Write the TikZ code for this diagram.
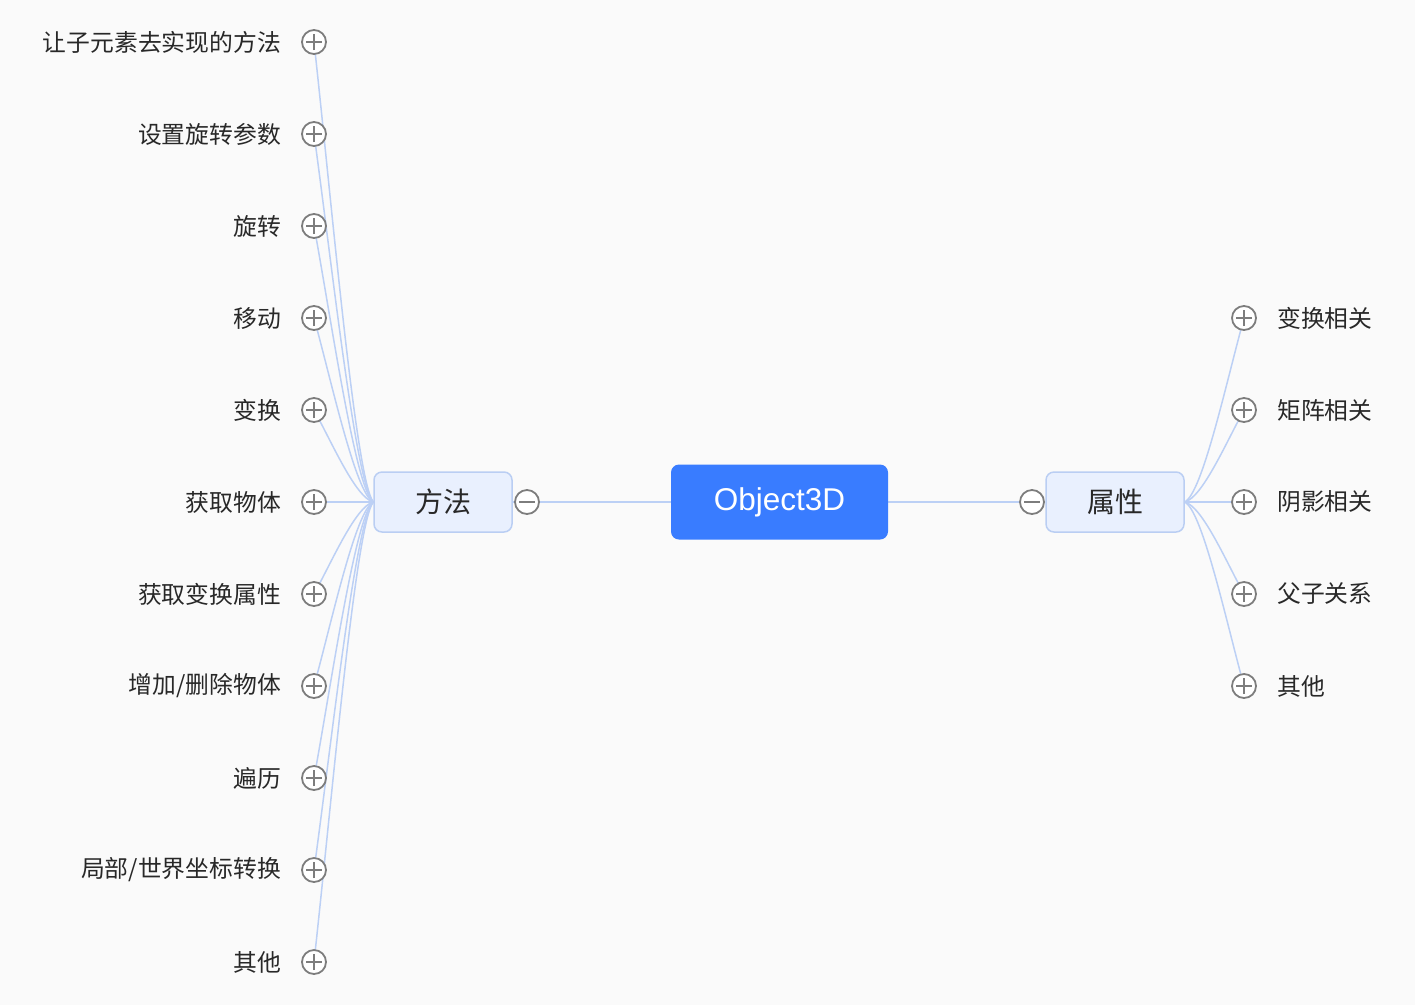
\documentclass[tikz,border=0pt]{standalone}
\usepackage{fontspec}
\setmainfont{Noto Sans CJK SC}
\newfontfamily\latinf{Liberation Sans}
\usetikzlibrary{calc}
\definecolor{bgc}{RGB}{250,250,250}
\definecolor{rootblue}{RGB}{57,124,255}
\definecolor{mainfill}{RGB}{233,240,254}
\definecolor{mainborder}{RGB}{186,206,243}
\definecolor{linec}{RGB}{188,208,245}
\definecolor{btn}{RGB}{125,125,125}
\definecolor{txt}{RGB}{40,40,40}
\pgfdeclarelayer{back}
\pgfsetlayers{back,main}
\newcommand\brc[2]{\draw[branch] let \p1=(#1), \p2=(#2) in (\p1) .. controls ({\x1+0.3*(\x2-\x1)},{\y1+0.35*(\y2-\y1)}) and ({\x1+0.7*(\x2-\x1)},{\y1+0.95*(\y2-\y1)}) .. (\p2);}
\begin{document}
\begin{tikzpicture}[x=1pt,y=-1pt,
  branch/.style={draw=linec, line width=1.5pt},
  btnbase/.style={circle, draw=btn, line width=1.8pt, fill=white, minimum size=24pt, inner sep=0pt},
  plusbtn/.style={btnbase, path picture={\draw[btn, line width=1.8pt] ($(path picture bounding box.center)+(-8pt,0pt)$) -- ++(16pt,0pt) ($(path picture bounding box.center)+(0pt,-8pt)$) -- ++(0pt,16pt);}},
  minusbtn/.style={btnbase, path picture={\draw[btn, line width=1.8pt] ($(path picture bounding box.center)+(-8pt,0pt)$) -- ++(16pt,0pt);}},
  lbl/.style={font=\fontsize{23.8}{28}\selectfont, text=txt, inner sep=0pt},
  rootnode/.style={rectangle, rounded corners=8pt, fill=rootblue, text=white, minimum width=217pt, minimum height=75pt, inner sep=0pt, font=\latinf\fontsize{31.5}{36}\selectfont},
  mainnode/.style={rectangle, rounded corners=8pt, fill=mainfill, draw=mainborder, line width=1.5pt, minimum width=138pt, minimum height=60pt, inner sep=0pt, text=txt, font=\fontsize{28}{32}\selectfont}]
\begin{pgfonlayer}{back}
\path[use as bounding box, fill=bgc] (0,0) rectangle (1415,1005);
\end{pgfonlayer}
\node[rootnode] (root) at (779.5,502) {Object3D};
\node[mainnode] (m) at (443,502) {方法};
\node[mainnode] (p) at (1115,502) {属性};
\node[minusbtn] (mm) at (527,502) {};
\node[minusbtn] (pm) at (1032,502) {};
\foreach \i/\y/\t in {1/42/{让子元素去实现的方法}, 2/134/{设置旋转参数}, 3/226/{旋转}, 4/318/{移动}, 5/410/{变换}, 6/502/{获取物体}, 7/594/{获取变换属性}, 8/686/{增加/删除物体}, 9/778/{遍历}, 10/870/{局部/世界坐标转换}, 11/962/{其他}}{
  \node[plusbtn] (lp\i) at (314,\y) {};
  \node[lbl, anchor=east] (lt\i) at (281,\y) {\t};
}
\foreach \i/\y/\t in {1/318/{变换相关}, 2/410/{矩阵相关}, 3/502/{阴影相关}, 4/594/{父子关系}, 5/686/{其他}}{
  \node[plusbtn] (rp\i) at (1244,\y) {};
  \node[lbl, anchor=west] (rt\i) at (1277,\y) {\t};
}
\begin{pgfonlayer}{back}
\draw[branch] (m.east) -- (root.west);
\draw[branch] (root.east) -- (p.west);
\foreach \i in {1,2,3,4,5,7,8,9,10,11}{\brc{lp\i.center}{m.west}}
\draw[branch] (lp6.center) -- (m.west);
\foreach \i in {1,2,4,5}{\brc{rp\i.center}{p.east}}
\draw[branch] (rp3.center) -- (p.east);
\end{pgfonlayer}
\end{tikzpicture}
\end{document}
